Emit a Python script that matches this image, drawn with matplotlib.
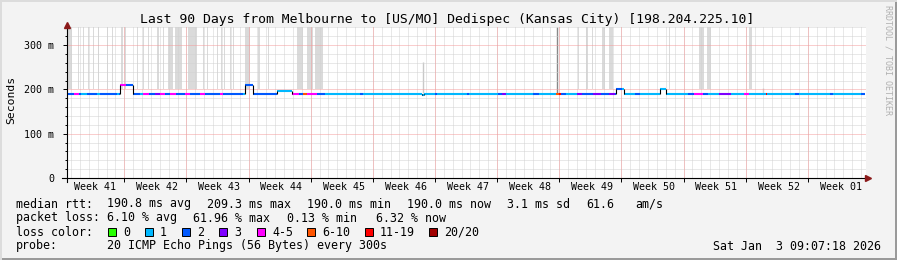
import matplotlib
matplotlib.use("Agg")
import matplotlib.pyplot as plt
from matplotlib.patches import Rectangle

# ---------------------------------------------------------------------------
# data (x in days since start of the 90 day window, rtt in ms)
# ---------------------------------------------------------------------------
seg_start = [0.0, 0.8, 1.3, 1.6, 2.25, 3.4, 3.7, 5.6, 5.9, 6.0, 6.6, 7.4, 8.2, 8.6,
             9.2, 9.9, 10.5, 11.0, 11.6, 12.3, 13.3, 13.8, 15.0, 15.5, 17.2, 17.6,
             19.8, 20.1, 20.9, 23.6, 25.3, 26.1, 26.6, 27.0, 28.2, 29.1, 33.0, 33.3,
             40.0, 40.2, 41.4, 41.7, 45.0, 45.3, 48.5, 49.0, 49.4, 52.5, 53.2, 55.1,
             55.4, 55.6, 56.2, 57.4, 58.0, 59.3, 60.2, 61.0, 61.7, 61.8, 62.5, 62.7,
             64.0, 64.5, 66.8, 67.5, 70.0, 70.6, 71.6, 72.2, 73.4, 74.8, 76.3, 76.8,
             78.7, 78.9, 82.0, 82.4, 86.0, 86.3, 89.4]
seg_rtt = [190, 190, 190, 190, 190, 190, 190, 190, 190, 209, 209, 190, 190, 190,
           190, 190, 190, 190, 190, 190, 190, 190, 190, 190, 190, 190,
           190, 209, 190, 196, 190, 190, 190, 190, 190, 190, 190, 190,
           188, 190, 190, 190, 190, 190, 190, 190, 190, 190, 190, 190,
           190, 190, 190, 190, 190, 190, 190, 190, 190, 201, 201, 190,
           190, 190, 201, 190, 190, 190, 190, 190, 190, 190, 190, 190,
           190, 190, 190, 190, 190, 190, 190]
seg_loss = [2, 4, 2, 1, 2, 1, 2, 1, 2, 4, 2, 2, 1, 4,
            2, 3, 4, 2, 4, 2, 4, 2, 4, 2, 4, 2,
            1, 2, 2, 1, 4, 2, 5, 4, 2, 1, 2, 1,
            1, 1, 2, 1, 2, 1, 2, 3, 1, 2, 1, 5,
            6, 2, 1, 3, 2, 3, 2, 3, 2, 2, 1, 1,
            2, 1, 1, 1, 2, 4, 2, 1, 3, 1, 4, 1,
            6, 1, 2, 1, 2, 1, 2]
last_day = 89.9

# smoke that runs off the top of the graph
smoke_start = [0.0, 1.24, 1.8, 2.37, 2.93, 3.49, 4.5, 5.07, 6.08, 6.53, 7.88, 8.56,
               9.12, 10.14, 10.81, 11.38, 12.16, 13.63, 15.32, 15.77, 16.9, 17.35,
               17.68, 18.36, 18.7, 20.05, 21.51, 22.64, 25.9, 27.03, 27.93, 57.56,
               58.46, 59.13, 60.26, 61.05, 66.3, 67.76, 71.14, 72.1, 76.82]
smoke_end = [0.56, 1.35, 1.9, 2.48, 3.04, 3.6, 4.6, 5.18, 6.31, 6.65, 8.0, 8.67,
             9.24, 10.36, 10.93, 11.94, 12.95, 14.64, 15.43, 15.88, 17.0, 17.46,
             17.8, 18.47, 18.81, 20.61, 21.74, 22.75, 26.58, 27.71, 28.84, 57.67,
             58.68, 59.25, 60.6, 61.5, 66.4, 67.87, 71.7, 72.54, 77.16]

# single spikes of smoke
spike_day = [40.1, 55.2, 78.4]
spike_top = [262, 341, 204]
spike_color = ["#c8c8c8", "#888888", "#cccccc"]

week_labels = ["Week 41", "Week 42", "Week 43", "Week 44", "Week 45", "Week 46",
               "Week 47", "Week 48", "Week 49", "Week 50", "Week 51", "Week 52",
               "Week 01"]
first_week_start = -0.55

y_ticks = [0, 100, 200, 300]
y_tick_labels = ["0", "100 m", "200 m", "300 m"]
y_max = 341

loss_labels = ["0", "1", "2", "3", "4-5", "6-10", "11-19", "20/20"]
loss_colors = ["#26ff00", "#00b8ff", "#0059ff", "#7e00ff", "#ff00ff",
               "#ff5500", "#ff0000", "#a10000"]

title = "Last 90 Days from Melbourne to [US/MO] Dedispec (Kansas City) [198.204.225.10]"
rtt_stats = ["190.8 ms avg", "209.3 ms max", "190.0 ms min", "190.0 ms now",
             "3.1 ms sd", "61.6", "am/s"]
loss_stats = ["6.10 % avg", "61.96 % max", "0.13 % min", "6.32 % now"]
probe_text = "20 ICMP Echo Pings (56 Bytes) every 300s"
stamp = "Sat Jan  3 09:07:18 2026"

# ---------------------------------------------------------------------------
# figure
# ---------------------------------------------------------------------------
W, H = 897, 260
MONO = "DejaVu Sans Mono"
fig = plt.figure(figsize=(W / 100, H / 100), dpi=100, facecolor="#f3f3f3")


def px(x, y):
    """pixel position -> figure fraction"""
    return x / W, 1 - y / H


ax = fig.add_axes([67 / W, 1 - 178 / H, 799 / W, 151 / H])
ax.set_facecolor("white")
ax.set_xlim(0, 90)
ax.set_ylim(0, y_max)
for s in ax.spines.values():
    s.set_visible(False)

# grid, dotted 1 px on / 1 px off
DOT = (0, (1, 1))
week_bounds = [first_week_start + 7 * k for k in range(1, 13)]
day_lines = [first_week_start + d for d in range(1, 91) if first_week_start + d < 90]
minor_y = [v for v in range(20, y_max, 20) if v % 100]
for d in day_lines:
    ax.axvline(d, color="#d2d2d2", lw=0.72, ls=DOT, zorder=0.5)
for v in minor_y:
    ax.axhline(v, color="#d2d2d2", lw=0.72, ls=DOT, zorder=0.5)
for d in week_bounds:
    ax.axvline(d, color="#f49c9c", lw=0.72, ls=DOT, zorder=0.6)
for v in y_ticks[1:]:
    ax.axhline(v, color="#f49c9c", lw=0.72, ls=DOT, zorder=0.6)

# smoke
for a, b in zip(smoke_start, smoke_end):
    ax.fill_between([a, b], 200, y_max, color="#dadada", lw=0, zorder=0.3)
for d, t, c in zip(spike_day, spike_top, spike_color):
    ax.vlines(d, 192, t, color=c, lw=1.0, zorder=0.4)

# median line coloured by loss
seg_end = seg_start[1:] + [last_day]
for i, (a, b, r, l) in enumerate(zip(seg_start, seg_end, seg_rtt, seg_loss)):
    ax.hlines(r, a, b, color=loss_colors[l], lw=1.5, zorder=2)
    if i > 0 and seg_rtt[i - 1] != r:
        ax.vlines(a, seg_rtt[i - 1], r, color="black", lw=0.8, zorder=2.5)

# axes lines with arrows
ax.plot([-0.6, 90.2], [0, 0], color="black", lw=0.8, clip_on=False, zorder=3)
ax.plot([0, 0], [-9, y_max], color="black", lw=0.8, clip_on=False, zorder=3)
ax.plot([90.2], [0], marker=">", color="#8b1a1a", ms=4, clip_on=False, zorder=3)
ax.plot([0], [y_max + 4], marker="^", color="#8b1a1a", ms=4, clip_on=False, zorder=3)

# ticks
ax.set_yticks(y_ticks)
ax.set_yticklabels(y_tick_labels, fontfamily=MONO, fontsize=7.2)
ax.set_yticks(minor_y, minor=True)
ax.set_xticks(week_bounds)
ax.set_xticklabels([])
ax.tick_params(axis="both", which="major", length=3, width=0.7, color="black", pad=4)
ax.tick_params(axis="y", which="minor", length=1.5, width=0.7)
ax.tick_params(axis="y", which="major", pad=6)
for k, lab in enumerate(week_labels):
    ax.text(first_week_start + 3.5 + 7 * k + 0.2, -21, lab, ha="center", va="center",
            fontfamily=MONO, fontsize=7.2)

# title and side texts
fig.text(*px(447, 19), title, ha="center", va="center", fontfamily=MONO, fontsize=9.45)
fig.text(*px(11, 100), "Seconds", ha="center", va="center", rotation=90,
         fontfamily=MONO, fontsize=8.2)
fig.text(*px(888, 60), "RRDTOOL / TOBI OETIKER", ha="center", va="center",
         rotation=270, fontfamily=MONO, fontsize=6, color="#b0b0b0")

# legend
fs = 8.37
fig.text(*px(16, 204), "median rtt:", va="center", fontfamily=MONO, fontsize=fs)
for x, s in zip([107, 207, 307, 407, 507, 586, 635], rtt_stats):
    fig.text(*px(x, 204), s, va="center", fontfamily=MONO, fontsize=fs)
fig.text(*px(16, 218), "packet loss:", va="center", fontfamily=MONO, fontsize=fs)
for x, s in zip([107, 193, 287, 376], loss_stats):
    fig.text(*px(x, 218), s, va="center", fontfamily=MONO, fontsize=fs)
fig.text(*px(16, 232), "loss color:", va="center", fontfamily=MONO, fontsize=fs)
box_x = [108, 145, 182, 219, 257, 307, 365, 429]
for bx, lab, col in zip(box_x, loss_labels, loss_colors):
    fig.patches.append(Rectangle(px(bx, 236), 8 / W, 8 / H, transform=fig.transFigure,
                                 facecolor=col, edgecolor="black", lw=0.7))
    fig.text(*px(bx + 15, 232), lab, va="center", fontfamily=MONO, fontsize=fs)
fig.text(*px(16, 246), "probe:", va="center", fontfamily=MONO, fontsize=fs)
fig.text(*px(107, 246), probe_text, va="center", fontfamily=MONO, fontsize=fs)
fig.text(*px(881, 246), stamp, ha="right", va="center", fontfamily=MONO, fontsize=fs)

# frame of the image
fig.patches.append(Rectangle((0, 0), 1, 2 / H, transform=fig.transFigure,
                             facecolor="#9a9a9a", lw=0))
fig.patches.append(Rectangle((1 - 2 / W, 0), 2 / W, 1, transform=fig.transFigure,
                             facecolor="#9a9a9a", lw=0))
fig.patches.append(Rectangle((0, 1 - 2 / H), 1, 2 / H, transform=fig.transFigure,
                             facecolor="#dcdcdc", lw=0))
fig.patches.append(Rectangle((0, 0), 2 / W, 1, transform=fig.transFigure,
                             facecolor="#dcdcdc", lw=0))

fig.savefig("out.png", dpi=100, facecolor=fig.get_facecolor())
